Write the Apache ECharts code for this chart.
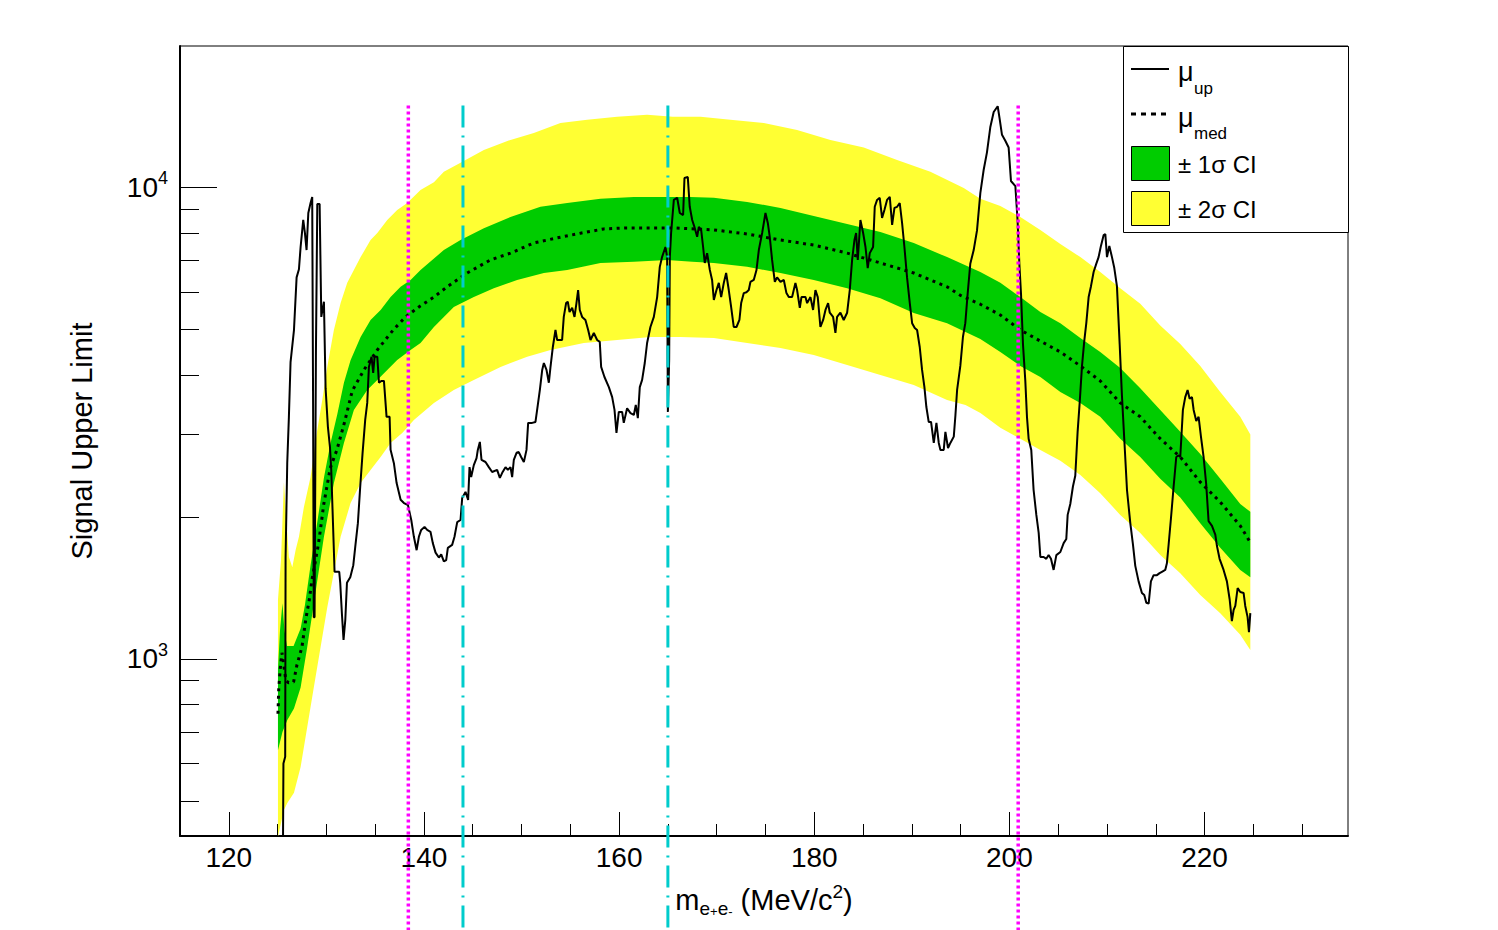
<!DOCTYPE html>
<html>
<head>
<meta charset="utf-8">
<script src="https://cdn.jsdelivr.net/npm/echarts@6/dist/echarts.min.js"></script>
<style>
html,body{margin:0;padding:0;background:#fff;}
#chart{width:1498px;height:930px;}
</style>
</head>
<body>
<div id="chart"></div>
<script>
// ---------------- data (mass in MeV/c^2, signal upper limit) ----------------
const muUp = [
[125.0,300],[125.55,390],[125.6,600],[125.78,620],[125.82,1640],[125.99,2600],[126.16,3260],[126.33,4260],[126.68,4980],[126.95,6440],[127.19,6700],[127.36,7470],[127.63,8525],[127.8,8000],[127.97,7360],[128.15,8820],[128.38,9260],[128.55,9540],[128.64,3420],[128.71,1225],[128.79,1225],[128.93,4475],[129.07,9210],[129.31,9210],[129.48,5310],[129.75,5720],[129.92,3750],[130.16,3100],[130.37,2810],[130.5,2516],[130.84,1530],[131.32,1530],[131.42,1450],[131.59,1250],[131.76,1097],[131.94,1209],[132.11,1450],[132.45,1490],[132.76,1580],[132.96,1727],[133.23,1940],[133.47,2320],[133.71,2730],[133.98,3211],[134.19,3490],[134.36,4160],[134.63,4370],[134.8,4040],[134.94,4370],[135.22,4370],[135.39,3850],[135.63,3885],[135.9,3885],[136.17,3260],[136.48,3260],[136.58,2775],[136.92,2600],[137.2,2360],[137.61,2175],[137.95,2140],[138.36,2120],[138.7,1970],[138.97,1815],[139.25,1700],[139.48,1815],
[139.72,1877],[140.06,1905],[140.33,1877],[140.67,1860],[140.91,1760],[141.19,1680],[141.53,1640],[141.77,1665],[142.04,1610],[142.28,1620],[142.45,1720],[142.89,1745],[143.13,1815],[143.41,1950],[143.75,1970],[143.92,2195],[144.26,2260],[144.53,2173],[144.67,2550],[144.84,2430],[145.11,2575],[145.39,2665],[145.52,2774],[145.73,2885],[145.9,2641],[146.31,2615],[146.65,2550],[146.99,2490],[147.5,2516],[147.78,2420],[148.02,2480],[148.36,2550],[148.6,2516],[148.87,2550],[149.04,2430],[149.21,2641],[149.49,2735],[149.72,2745],[149.96,2680],[150.24,2615],[150.51,2774],[150.68,3165],[151.09,3165],[151.43,3180],[151.6,3372],[151.88,3717],[152.12,4099],[152.29,4240],[152.56,4099],[152.8,3850],[152.97,4160],[153.21,4585],[153.48,4982],[153.65,4744],[154.16,4744],[154.33,5310],[154.57,5680],[154.74,5720],[154.92,5440],[155.19,5550],[155.43,5310],[155.63,5680],[155.8,6055],[155.97,5493],[156.21,5310],[156.55,5231],[156.83,4982],[157.07,4744],[157.41,4910],[157.75,4744],[158.02,4700],[158.16,4160],[158.5,3960],[158.95,3770],[159.29,3590],[159.53,3372],[159.73,3015],[159.97,3340],[160.31,3340],[160.48,3165],[160.82,3400],[161.17,3320],[161.51,3290],[161.71,3455],[161.92,3240],[162.12,3770],[162.36,3904],[162.63,4240],[162.87,4675],[163.21,5055],[163.56,5310],[163.9,5850],[164.17,6780],[164.41,7120],[164.75,7470],[164.92,7120],[165.0,3340],[165.13,4300],[165.2,7120],[165.33,8000],[165.61,9400],[165.95,9500],[166.22,8820],[166.56,8730],[166.7,10460],[167.04,10510],[167.24,9090],
[167.49,8525],[167.72,8240],[168.0,7850],[168.17,8240],[168.41,8120],[168.61,7470],[168.78,6910],[169.02,7250],[169.3,6677],[169.53,6360],[169.71,5768],[169.98,6055],[170.22,6270],[170.46,5850],[170.73,6270],[170.97,6580],[171.24,6055],[171.48,5575],[171.75,5055],[172.03,5055],[172.33,5231],[172.51,5680],[172.78,5965],[173.05,5990],[173.29,6055],[173.46,6300],[173.8,6360],[174.08,6677],[174.32,7360],[174.66,8000],[175.0,8820],[175.24,8400],[175.44,7850],[175.68,7015],[175.96,6300],[176.19,6440],[176.54,6300],[176.88,6360],[177.15,5965],[177.39,5850],[177.73,5850],[178.07,6270],[178.24,6055],[178.52,5550],[178.69,5850],[179.1,5850],[179.27,5680],[179.61,5850],[179.88,5493],[180.12,6055],[180.36,5850],[180.63,5055],[180.91,5231],[181.15,5493],[181.42,5680],[181.59,5420],[181.93,5310],[182.17,4910],[182.34,5310],[182.68,5420],[183.02,5231],[183.37,5420],[183.64,6055],[183.88,7015],[184.12,7730],[184.29,8000],[184.46,7015],[184.73,8525],[185.01,8000],[185.25,7470],[185.48,6740],[185.69,7250],[186.03,7470],[186.2,9090],[186.44,9400],[186.71,9500],[186.95,8610],[187.19,8950],[187.46,9400],[187.74,9540],[187.98,8320],[188.22,9040],[188.49,9090],[188.76,9260],[189.0,8400],[189.24,7470],[189.51,6440],[189.79,5680],[190.03,5150],[190.3,5030],[190.54,4982],[190.81,4585],[191.05,4099],[191.29,3770],[191.49,3420],[191.73,3180],[191.97,3180],[192.25,2870],[192.52,3165],[192.76,2870],[192.93,2774],[193.27,2774],[193.44,3030],[193.71,2800],[193.95,2870],[194.3,2960],[194.47,3290],[194.64,3717],[194.97,4180],[195.24,4820],[195.48,5150],[195.72,5940],[195.99,6880],[196.34,7360],[196.68,8100],[197.02,9720],
[197.36,10880],[197.7,11860],[198.04,13400],[198.39,14440],[198.8,14850],[199.0,13960],[199.24,12920],[199.58,12550],[199.92,12140],[200.16,10310],[200.61,10060],[200.84,8480],[201.02,6880],[201.19,5940],[201.39,4650],[201.63,3885],[201.8,3260],[201.97,2930],[202.24,2774],[202.48,2281],[202.76,2020],[203.0,1850],[203.17,1645],[203.51,1645],[203.78,1630],[204.02,1660],[204.26,1630],[204.53,1544],[204.81,1660],[205.22,1685],[205.56,1760],[205.83,1795],[205.97,2020],[206.24,2130],[206.51,2320],[206.75,2445],[206.99,3030],[207.2,3490],[207.44,4180],[207.67,4720],[207.88,5150],[208.12,5850],[208.36,6170],[208.63,6610],[208.9,6880],[209.14,7110],[209.38,7510],[209.66,7920],[209.83,7960],[210.0,7110],[210.24,7510],[210.51,7110],[210.75,6740],[211.02,6170],[211.3,4650],[211.53,3625],[211.77,2930],[212.05,2281],[212.39,1940],[212.66,1750],[212.9,1575],[213.24,1460],[213.58,1380],[213.82,1366],[214.03,1315],[214.27,1310],[214.5,1460],[214.78,1505],[215.12,1505],[215.39,1520],[215.63,1530],[215.97,1544],[216.14,1595],[216.32,1750],[216.55,1980],[216.83,2320],[217.1,2680],[217.34,2700],[217.51,2680],[217.78,3372],[218.02,3590],[218.26,3717],[218.47,3560],[218.71,3590],[218.88,3372],[219.15,3195],[219.39,3260],[219.63,2960],[219.9,2680],[220.17,2345],[220.41,1960],[220.76,1915],[221.1,1835],[221.27,1735],[221.54,1630],[221.95,1544],[222.29,1460],[222.57,1338],[222.8,1203],[222.98,1270],[223.15,1295],[223.39,1413],[223.66,1386],[224.0,1380],[224.17,1295],[224.41,1226],[224.55,1140],[224.69,1250]
];

const muMed = [
[125.04,765],[125.12,866],[125.28,956],[125.45,1030],[125.62,975],[125.85,900],[126.13,890],[126.64,893],[126.98,970],[127.5,1060],[127.91,1220],[128.25,1334],[128.52,1470],[128.86,1605],[129.2,1760],[129.48,1940],[129.72,2120],[130.06,2320],[130.4,2540],[131.08,2774],[131.87,3180],[132.65,3700],[133.85,4099],[135.22,4519],[136.85,4982],[138.12,5310],[139.48,5575],[141.02,5850],[142.38,6150],[144.43,6580],[146.82,7015],[148.87,7250],[151.26,7620],[153.65,7810],[156.04,7990],[158.43,8160],[160.82,8200],[163.21,8200],[165.61,8200],[169.71,8120],[173.12,7960],[176.54,7730],[179.95,7540],[183.37,7250],[186.78,6910],[190.2,6580],[193.61,6150],[194.97,5900],[197.02,5650],[199.07,5360],[201.12,4982],[203.17,4720],[205.22,4475],[207.27,4180],[209.31,3885],[211.36,3490],[213.41,3260],[215.46,2930],[217.51,2680],[219.56,2370],[221.61,2150],[223.66,1915],[224.69,1765]
];

const sigma1Upper = [
[125.04,950],[125.25,1150],[125.5,1312],[125.7,1150],[125.96,1065],[126.64,1065],[127.36,1160],[127.8,1300],[128.38,1580],[129.07,1950],[129.75,2420],[130.43,2870],[131.12,3300],[131.8,3850],[132.48,4300],[133.51,4815],[134.53,5231],[135.56,5493],[136.58,5850],[137.61,6150],[138.63,6360],[139.65,6677],[142.04,7360],[143.75,7730],[146.14,8190],[148.87,8650],[151.94,9090],[154.68,9260],[158.09,9450],[161.51,9540],[164.92,9540],[167.3,9540],[169.71,9500],[173.12,9310],[176.54,9040],[179.95,8690],[183.37,8360],[186.78,8040],[190.2,7620],[193.61,7110],[197.02,6610],[199.07,6270],[201.12,5850],[203.17,5440],[205.22,5150],[207.27,4790],[209.31,4475],[211.36,4140],[213.41,3750],[215.46,3372],[217.51,3030],[219.56,2720],[221.61,2410],[223.66,2130],[224.69,2050]
];

const sigma1Lower = [
[125.04,640],[125.5,700],[126.0,742],[126.68,785],[127.36,870],[128.04,1060],[128.72,1312],[129.75,1815],[130.77,2360],[131.8,2870],[132.82,3372],[134.19,3717],[135.22,3904],[136.24,4099],[137.26,4304],[138.63,4519],[139.65,4675],[141.02,5055],[143.06,5575],[145.11,5850],[147.16,6110],[149.55,6360],[152.29,6580],[154.68,6677],[158.09,6910],[161.51,6950],[164.92,7015],[167.5,6950],[169.71,6910],[173.12,6780],[176.54,6580],[179.95,6360],[183.37,6110],[186.78,5820],[190.2,5410],[193.61,5150],[197.02,4770],[199.07,4475],[201.12,4180],[203.17,3960],[205.22,3680],[207.27,3490],[209.31,3260],[211.36,2930],[213.41,2680],[215.46,2410],[217.51,2200],[219.56,1940],[221.61,1720],[223.66,1544],[224.69,1490]
];

const sigma2Upper = [
[125.04,1334],[125.35,1621],[125.65,2370],[125.9,1971],[126.16,1645],[126.51,1565],[126.85,1702],[127.19,1815],[127.7,2100],[128.38,2430],[129.07,3058],[129.58,3540],[130.09,4160],[130.77,4982],[131.46,5680],[132.14,6270],[132.82,6677],[133.51,7110],[134.53,7730],[135.22,8000],[136.24,8525],[137.26,8950],[138.29,9260],[139.65,9870],[141.02,10250],[142.04,10780],[143.75,11270],[146.14,12000],[148.87,12600],[151.26,13040],[153.99,13680],[156.73,13900],[159.8,14110],[162.87,14250],[165.5,14110],[168.34,14110],[171.41,13900],[174.83,13680],[178.24,13230],[181.66,12600],[185.07,12140],[188.49,11430],[191.9,10780],[195.32,9960],[197.02,9450],[199.07,9130],[201.12,8650],[203.17,8120],[205.22,7580],[207.27,7110],[209.31,6610],[211.36,6110],[213.41,5660],[215.46,5090],[217.51,4650],[219.56,4180],[221.61,3680],[223.66,3260],[224.69,2990]
];

const sigma2Lower = [
[125.04,420],[125.65,478],[126.0,495],[126.68,520],[127.36,590],[128.04,717],[128.72,872],[129.41,1060],[130.09,1285],[131.46,1815],[132.48,2140],[133.51,2360],[134.53,2516],[135.56,2680],[136.58,2870],[137.8,3015],[138.97,3210],[141.02,3490],[143.06,3717],[145.11,3904],[147.85,4160],[150.58,4370],[152.97,4519],[156.38,4675],[159.8,4744],[163.21,4815],[166.29,4815],[169.71,4790],[173.12,4675],[176.54,4560],[179.95,4410],[183.37,4200],[186.78,4000],[190.2,3810],[193.61,3540],[195.5,3455],[197.03,3320],[199.07,3090],[201.12,2930],[203.17,2774],[205.22,2630],[207.27,2455],[209.31,2245],[211.36,2020],[213.41,1850],[215.46,1660],[217.51,1520],[219.56,1366],[221.61,1250],[223.66,1125],[224.69,1044]
];

const magentaLines = [138.4, 200.9];
const cyanLines = [144.0, 165.0];
const vLineTop = 14900;
const vLineBottom = 250;

const xMajorTicks = [120, 140, 160, 180, 200, 220];
const xMinorTicks = [125, 130, 135, 145, 150, 155, 165, 170, 175, 185, 190, 195, 205, 210, 215, 225, 230];
const yMajorTicks = [1000, 10000];
const yMinorTicks = [500, 600, 700, 800, 900, 2000, 3000, 4000, 5000, 6000, 7000, 8000, 9000];

const xMin = 115, xMax = 234.7;
const yMin = 421.2, yMax = 19930;

// ---------------- chart ----------------
const FONT = '"Liberation Sans", Arial, Helvetica, sans-serif';
const chart = echarts.init(document.getElementById('chart'), null, {renderer: 'svg'});

function bandSeries(upper, lower, color, z) {
  const poly = upper.concat(lower.slice().reverse());
  return {
    type: 'custom', coordinateSystem: 'cartesian2d', xAxisIndex: 0, yAxisIndex: 0,
    z: z, silent: true, clip: true, animation: false,
    data: poly, encode: {x: 0, y: 1},
    renderItem: function (params, api) {
      if (params.dataIndex !== 0) return null;
      const pts = poly.map(function (p) { return api.coord(p); });
      return {type: 'polygon', shape: {points: pts}, style: {fill: color, stroke: null}};
    }
  };
}

function vLineSeries(masses, color, dash, width) {
  return {
    type: 'custom', coordinateSystem: 'cartesian2d', xAxisIndex: 0, yAxisIndex: 0,
    z: 20, silent: true, clip: false, animation: false,
    data: masses.map(function (m) { return [m, vLineTop]; }),
    encode: {x: 0, y: 1},
    renderItem: function (params, api) {
      const top = api.coord([api.value(0), vLineTop]);
      const bot = api.coord([api.value(0), vLineBottom]);
      return {type: 'line', shape: {x1: top[0], y1: top[1], x2: bot[0], y2: bot[1]},
              style: {stroke: color, lineWidth: width, lineDash: dash, fill: null}};
    }
  };
}

const tickLabelStyle = {color: '#000', fontFamily: FONT, fontSize: 28};

const option = {
  animation: false,
  backgroundColor: '#fff',
  grid: {left: 180, right: 150, top: 46, bottom: 94, show: true, borderColor: '#000', borderWidth: 1, backgroundColor: 'transparent'},
  xAxis: [
    {
      type: 'value', min: xMin, max: xMax, position: 'bottom',
      name: 'm{sub|e}{ss|+}{sub|e}{ss|-} (MeV/c{sup|2})',
      nameLocation: 'middle', nameGap: 46,
      nameTextStyle: {
        color: '#000', fontFamily: FONT, fontSize: 29, lineHeight: 36,
        rich: {
          sub: {fontFamily: FONT, fontSize: 19, color: '#000', verticalAlign: 'bottom', lineHeight: 22},
          ss: {fontFamily: FONT, fontSize: 13, color: '#000', verticalAlign: 'bottom', lineHeight: 34},
          sup: {fontFamily: FONT, fontSize: 19, color: '#000', verticalAlign: 'top', lineHeight: 19}
        }
      },
      axisLine: {show: true, onZero: false, lineStyle: {color: '#000', width: 2}},
      axisTick: {show: true, inside: true, length: 24, customValues: xMajorTicks, lineStyle: {color: '#000', width: 1}},
      axisLabel: Object.assign({show: true, margin: 6, customValues: xMajorTicks, lineHeight: 30}, tickLabelStyle),
      splitLine: {show: false}
    },
    {
      type: 'value', min: xMin, max: xMax, position: 'bottom', offset: 0,
      axisLine: {show: false},
      axisTick: {show: true, inside: true, length: 12, customValues: xMinorTicks, lineStyle: {color: '#000', width: 1}},
      axisLabel: {show: false},
      splitLine: {show: false}
    }
  ],
  yAxis: [
    {
      type: 'log', logBase: 10, min: yMin, max: yMax, position: 'left',
      name: 'Signal Upper Limit', nameLocation: 'middle', nameGap: 84, nameRotate: 90,
      nameTextStyle: {color: '#000', fontFamily: FONT, fontSize: 29},
      axisLine: {show: true, onZero: false, lineStyle: {color: '#000', width: 2}},
      axisTick: {show: true, inside: true, length: 37, customValues: yMajorTicks, lineStyle: {color: '#000', width: 1}},
      axisLabel: {
        show: true, margin: 12, customValues: yMajorTicks,
        formatter: function (v) { return '{b|10}{s|' + Math.round(Math.log10(v)) + '}'; },
        rich: {
          b: {fontFamily: FONT, fontSize: 28, color: '#000', lineHeight: 36},
          s: {fontFamily: FONT, fontSize: 18, color: '#000', verticalAlign: 'top', lineHeight: 18}
        }
      },
      splitLine: {show: false}
    },
    {
      type: 'log', logBase: 10, min: yMin, max: yMax, position: 'left', offset: 0,
      axisLine: {show: false},
      axisTick: {show: true, inside: true, length: 19, customValues: yMinorTicks, lineStyle: {color: '#000', width: 1}},
      axisLabel: {show: false},
      splitLine: {show: false}
    }
  ],
  series: [
    bandSeries(sigma2Upper, sigma2Lower, '#ffff33', 1),
    bandSeries(sigma1Upper, sigma1Lower, '#00cc00', 2),
    {
      type: 'line', name: 'μ_med', data: muMed, xAxisIndex: 0, yAxisIndex: 0, z: 3,
      symbol: 'none', silent: true, clip: true,
      lineStyle: {color: '#000', width: 3, type: [3, 4.5]}
    },
    {
      type: 'line', name: 'μ_up', data: muUp, xAxisIndex: 0, yAxisIndex: 0, z: 4,
      symbol: 'none', silent: true, clip: true,
      lineStyle: {color: '#000', width: 2}
    },
    vLineSeries(magentaLines, '#ff00ff', [3, 3], 3.5),
    vLineSeries(cyanLines, '#00cccc', [22, 8, 2, 8], 3)
  ],
  graphic: [
    {type: 'rect', left: 1123, top: 46, shape: {width: 225, height: 186}, style: {fill: '#fff', stroke: '#000', lineWidth: 1}, z: 100},
    {type: 'line', shape: {x1: 1131, y1: 69, x2: 1169, y2: 69}, style: {stroke: '#000', lineWidth: 2}, z: 101},
    {type: 'text', x: 1178, y: 72, style: {text: 'μ', font: '27px ' + FONT, fill: '#000', textVerticalAlign: 'middle'}, z: 101},
    {type: 'text', x: 1194, y: 88, style: {text: 'up', font: '17px ' + FONT, fill: '#000', textVerticalAlign: 'middle'}, z: 101},
    {type: 'line', shape: {x1: 1131, y1: 114, x2: 1169, y2: 114}, style: {stroke: '#000', lineWidth: 3, lineDash: [5, 5]}, z: 101},
    {type: 'text', x: 1178, y: 118, style: {text: 'μ', font: '27px ' + FONT, fill: '#000', textVerticalAlign: 'middle'}, z: 101},
    {type: 'text', x: 1194, y: 133, style: {text: 'med', font: '17px ' + FONT, fill: '#000', textVerticalAlign: 'middle'}, z: 101},
    {type: 'rect', left: 1131, top: 146, shape: {width: 38, height: 34}, style: {fill: '#00cc00', stroke: '#000', lineWidth: 1}, z: 101},
    {type: 'text', x: 1178, y: 164, style: {text: '± 1σ CI', font: '24px ' + FONT, fill: '#000', textVerticalAlign: 'middle'}, z: 101},
    {type: 'rect', left: 1131, top: 191, shape: {width: 38, height: 34}, style: {fill: '#ffff33', stroke: '#000', lineWidth: 1}, z: 101},
    {type: 'text', x: 1178, y: 209, style: {text: '± 2σ CI', font: '24px ' + FONT, fill: '#000', textVerticalAlign: 'middle'}, z: 101}
  ]
};

chart.setOption(option);
</script>
</body>
</html>
